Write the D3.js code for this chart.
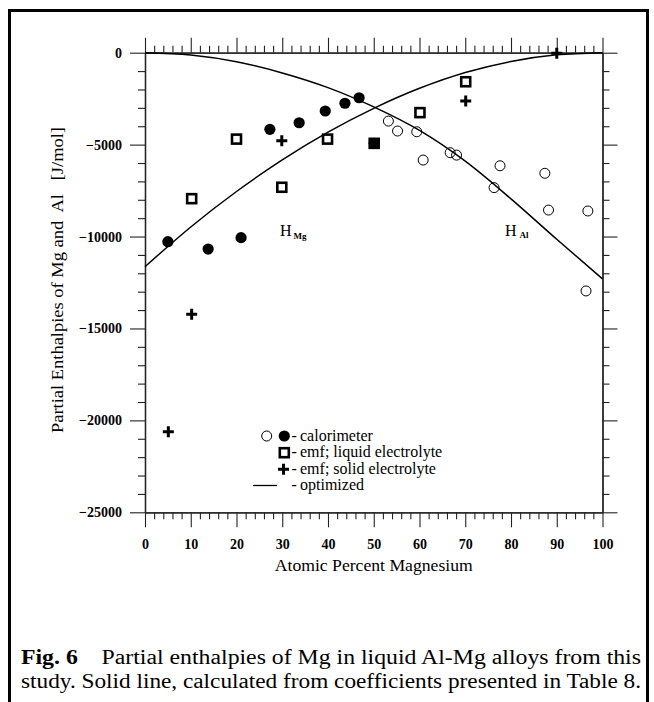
<!DOCTYPE html>
<html>
<head>
<meta charset="utf-8">
<script src="https://cdn.jsdelivr.net/npm/d3@7/dist/d3.min.js"></script>
<style>
  html, body { margin: 0; padding: 0; background: #fff; }
  svg { display: block; }
  text { font-family: "Liberation Serif", "Times New Roman", serif; fill: #000; }
</style>
</head>
<body>
<svg id="chart" width="654" height="702"></svg>
<script>
// ---------- data ----------
const xTickLabels = [0, 10, 20, 30, 40, 50, 60, 70, 80, 90, 100];
const yTickLabels = [0, -5000, -10000, -15000, -20000, -25000];

// calorimeter, filled circles [at.% Mg, J/mol]
const calFilled = [
  [5.0, -10280], [13.8, -10680], [21.0, -10060], [27.3, -4170], [33.7, -3810],
  [39.4, -3170], [43.7, -2750], [46.8, -2450], [50.1, -4930]
];
// calorimeter, open circles
const calOpen = [
  [53.2, -3720], [55.2, -4260], [59.4, -4300], [60.8, -5840], [66.7, -5440],
  [68.1, -5570], [77.6, -6150], [76.3, -7340], [87.4, -6560], [88.2, -8560],
  [96.8, -8610], [96.4, -12960]
];
// emf; liquid electrolyte (squares)
const emfLiquid = [
  [10.2, -7940], [20.0, -4700], [29.9, -7320], [39.9, -4700], [50.1, -4930],
  [60.1, -3260], [70.1, -1580]
];
// emf; solid electrolyte (plus)
const emfSolid = [
  [5.1, -20620], [10.2, -14230], [29.9, -4790], [70.1, -2630], [90.0, -30]
];
// optimized curves
const curveMg = [
  [0, -11640], [10, -9480], [20, -7550], [30, -5830], [40, -4320], [50, -3025],
  [60, -1936], [70, -1080], [80, -476], [90, -118], [100, 0]
];
const curveAl = [
  [0, 0], [10, -125], [20, -490], [30, -1100], [40, -1900], [50, -2950],
  [60, -4230], [70, -5900], [80, -7950], [90, -10150], [100, -12300]
];
const legendItems = ["calorimeter", "emf; liquid electrolyte", "emf; solid electrolyte", "optimized"];

// ---------- drawing ----------
const svg = d3.select("#chart");

// outer frame
svg.append("path")
  .attr("d", "M9.5,720 L9.5,10.5 L647.5,10.5 L647.5,720")
  .attr("fill", "none").attr("stroke", "#000").attr("stroke-width", 3);

const x = d3.scaleLinear().domain([0, 100]).range([145, 602.5]);
const y = d3.scaleLinear().domain([0, -25000]).range([52.7, 512.3]);

const axisStyle = g => {
  g.selectAll("path.domain").attr("stroke", "#222").attr("stroke-width", 1.3);
  g.selectAll(".tick line").attr("stroke", "#222").attr("stroke-width", 1.1);
};

const minorX = d3.range(0, 101, 2).filter(v => v % 10 !== 0);
const minorY = d3.range(0, -25001, -1000).filter(v => v % 5000 !== 0);

// bottom
svg.append("g").attr("transform", `translate(0,${y(-25000)})`)
  .call(d3.axisBottom(x).tickValues(minorX).tickSize(7).tickSizeOuter(0).tickFormat(""))
  .call(axisStyle);
svg.append("g").attr("transform", `translate(0,${y(-25000)})`)
  .call(d3.axisBottom(x).tickValues(xTickLabels).tickSize(15).tickSizeOuter(0).tickPadding(12).tickFormat(d3.format("d")))
  .call(axisStyle)
  .call(g => g.selectAll("text").attr("font-size", 14).attr("font-weight", "bold"));
// top
svg.append("g").attr("transform", `translate(0,${y(0)})`)
  .call(d3.axisTop(x).tickValues(minorX).tickSize(7).tickSizeOuter(0).tickFormat(""))
  .call(axisStyle);
svg.append("g").attr("transform", `translate(0,${y(0)})`)
  .call(d3.axisTop(x).tickValues(xTickLabels).tickSize(15).tickSizeOuter(0).tickFormat(""))
  .call(axisStyle);
// left
svg.append("g").attr("transform", `translate(${x(0)},0)`)
  .call(d3.axisLeft(y).tickValues(minorY).tickSize(7).tickSizeOuter(0).tickFormat(""))
  .call(axisStyle);
svg.append("g").attr("transform", `translate(${x(0)},0)`)
  .call(d3.axisLeft(y).tickValues(yTickLabels).tickSize(15).tickSizeOuter(0).tickPadding(8).tickFormat(d3.format("d")))
  .call(axisStyle)
  .call(g => g.selectAll("text").attr("font-size", 14).attr("font-weight", "bold"));
// right
svg.append("g").attr("transform", `translate(${x(100)},0)`)
  .call(d3.axisRight(y).tickValues(minorY).tickSize(7).tickSizeOuter(0).tickFormat(""))
  .call(axisStyle);
svg.append("g").attr("transform", `translate(${x(100)},0)`)
  .call(d3.axisRight(y).tickValues(yTickLabels).tickSize(15).tickSizeOuter(0).tickFormat(""))
  .call(axisStyle);

// axis titles
svg.append("text")
  .attr("x", (x(0) + x(100)) / 2).attr("y", 571)
  .attr("text-anchor", "middle").attr("font-size", 17)
  .attr("textLength", 198).attr("lengthAdjust", "spacingAndGlyphs")
  .text("Atomic Percent Magnesium");
svg.append("text")
  .attr("transform", "translate(63,280) rotate(-90)")
  .attr("text-anchor", "middle").attr("font-size", 16)
  .attr("textLength", 306).attr("lengthAdjust", "spacingAndGlyphs")
  .attr("xml:space", "preserve")
  .text("Partial Enthalpies of Mg and  Al   [J/mol]");

// curves
const line = d3.line().x(d => x(d[0])).y(d => y(d[1])).curve(d3.curveMonotoneX);
const plot = svg.append("g");
[curveMg, curveAl].forEach(c => {
  plot.append("path").attr("d", line(c)).attr("fill", "none")
    .attr("stroke", "#000").attr("stroke-width", 1.5);
});

// markers
const plusPath = s => `M${-s},0H${s}M0,${-s}V${s}`;
plot.selectAll(".sq").data(emfLiquid).join("rect")
  .attr("x", d => x(d[0]) - 4.5).attr("y", d => y(d[1]) - 4.5)
  .attr("width", 9).attr("height", 9)
  .attr("fill", "#fff").attr("stroke", "#000").attr("stroke-width", 2.6);
plot.selectAll(".oc").data(calOpen).join("circle")
  .attr("cx", d => x(d[0])).attr("cy", d => y(d[1])).attr("r", 5)
  .attr("fill", "none").attr("stroke", "#000").attr("stroke-width", 1);
plot.selectAll(".fc").data(calFilled).join("circle")
  .attr("cx", d => x(d[0])).attr("cy", d => y(d[1])).attr("r", 5.6)
  .attr("fill", "#000");
plot.selectAll(".pl").data(emfSolid).join("path")
  .attr("transform", d => `translate(${x(d[0])},${y(d[1])})`)
  .attr("d", plusPath(5.5)).attr("stroke", "#000").attr("stroke-width", 3).attr("fill", "none");

// curve labels
const lblMg = svg.append("text").attr("x", 280).attr("y", 236).attr("font-size", 16);
lblMg.append("tspan").text("H");
lblMg.append("tspan").attr("dx", 2).attr("dy", 3).attr("font-size", 9).attr("font-weight", "bold").text("Mg");
const lblAl = svg.append("text").attr("x", 505).attr("y", 236).attr("font-size", 16);
lblAl.append("tspan").text("H");
lblAl.append("tspan").attr("dx", 3).attr("dy", 2).attr("font-size", 9).attr("font-weight", "bold").text("Al");

// legend
const lg = svg.append("g");
const rowY = [436, 452.7, 469.3, 485.5];
lg.append("circle").attr("cx", 266.7).attr("cy", rowY[0]).attr("r", 5).attr("fill", "none").attr("stroke", "#000").attr("stroke-width", 1);
lg.append("circle").attr("cx", 284.3).attr("cy", rowY[0]).attr("r", 5.6).attr("fill", "#000");
lg.append("rect").attr("x", 284.3 - 4.5).attr("y", rowY[1] - 4.5).attr("width", 9).attr("height", 9)
  .attr("fill", "#fff").attr("stroke", "#000").attr("stroke-width", 2.6);
lg.append("path").attr("transform", `translate(283.5,${rowY[2]})`).attr("d", plusPath(5.5))
  .attr("stroke", "#000").attr("stroke-width", 3);
lg.append("line").attr("x1", 253).attr("x2", 277).attr("y1", rowY[3]).attr("y2", rowY[3])
  .attr("stroke", "#000").attr("stroke-width", 1.3);
legendItems.forEach((t, i) => {
  lg.append("text").attr("x", 291.5).attr("y", rowY[i] + 4.5).attr("font-size", 16).text("-");
  lg.append("text").attr("x", 300).attr("y", rowY[i] + 4.5).attr("font-size", 16).text(t);
});

// caption
const cap1 = svg.append("text").attr("x", 21).attr("y", 664).attr("font-size", 20)
  .attr("textLength", 620).attr("lengthAdjust", "spacingAndGlyphs").attr("xml:space", "preserve");
cap1.append("tspan").attr("font-weight", "bold").text("Fig. 6");
cap1.append("tspan").text("    Partial enthalpies of Mg in liquid Al-Mg alloys from this");
svg.append("text").attr("x", 21).attr("y", 688).attr("font-size", 20)
  .attr("textLength", 620).attr("lengthAdjust", "spacingAndGlyphs")
  .text("study. Solid line, calculated from coefficients presented in Table 8.");
</script>
</body>
</html>
